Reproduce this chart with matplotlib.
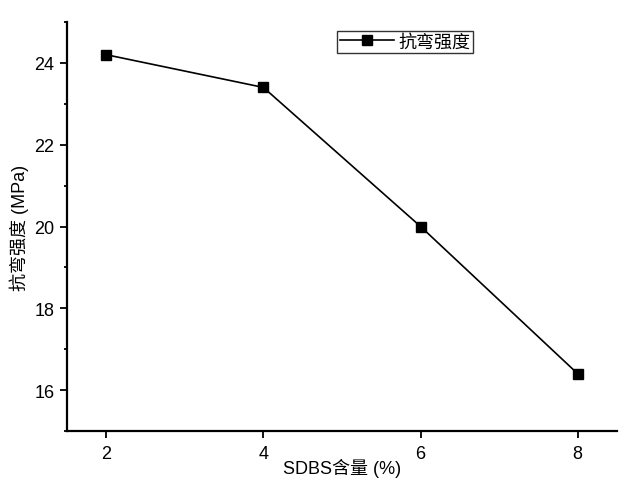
import matplotlib
matplotlib.use("Agg")
import matplotlib.pyplot as plt
from matplotlib.ticker import MultipleLocator

plt.rcParams['font.family'] = ['Liberation Sans', 'Noto Sans CJK SC', 'DejaVu Sans']

sdbs = [2, 4, 6, 8]
strength = [24.2, 23.4, 20.0, 16.4]
series_name = "抗弯强度"
xlabel = "SDBS含量 (%)"
ylabel = "抗弯强度 (MPa)"

fig = plt.figure(figsize=(6.31, 4.85), dpi=100)
ax = fig.add_axes([67/631, 53/485, 550/631, 409/485])

ax.plot(sdbs, strength, color='black', lw=1.2, marker='s', markersize=7,
        markerfacecolor='black', markeredgecolor='black', label=series_name)

ax.set_xlim(1.5, 8.5)
ax.set_ylim(15, 25)
ax.xaxis.set_major_locator(MultipleLocator(2))
ax.yaxis.set_minor_locator(MultipleLocator(1))
ax.set_yticks([16, 18, 20, 22, 24])

for s in ['top', 'right']:
    ax.spines[s].set_visible(False)
for s in ['left', 'bottom']:
    ax.spines[s].set_linewidth(1.6)

ax.tick_params(axis='both', which='major', direction='out', length=5, width=1.3,
               labelsize=13)
ax.tick_params(axis='y', which='major', pad=4)
ax.tick_params(axis='x', which='major', pad=5)
ax.tick_params(axis='y', which='minor', direction='out', length=2.5, width=1.3)

ax.set_xlabel(xlabel, fontsize=13, labelpad=-3)
ax.set_ylabel(ylabel, fontsize=13, labelpad=4)

leg = ax.legend(loc='upper left', bbox_to_anchor=((337-67)/550, (432-32)/409),
                frameon=True, fancybox=False, fontsize=13, handlelength=3.0,
                handletextpad=0.25, borderpad=0.15, borderaxespad=0)
leg.get_frame().set_edgecolor('black')
leg.get_frame().set_linewidth(1.0)

fig.savefig("out.png", dpi=100)
